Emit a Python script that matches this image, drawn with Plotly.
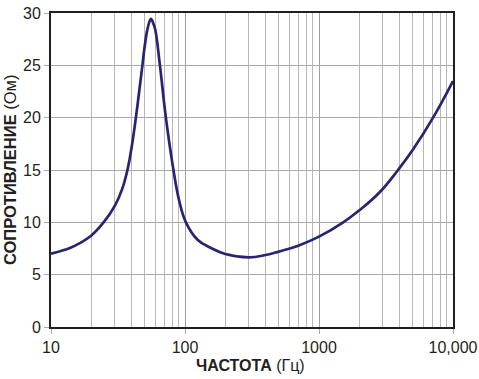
import plotly.graph_objects as go

freq_hz = [10, 12.5, 15, 20, 24.7, 30, 34, 37.2, 40, 43, 48.1, 50, 53, 55.7, 58, 60, 65, 72, 82,
           90, 101.6, 124, 156, 200, 300, 400, 500, 700, 1000, 1515, 2000, 2850, 3890, 5000,
           7100, 10000]
impedance_ohm = [7.0, 7.35, 7.75, 8.75, 10.0, 11.6, 13.2, 15.0, 17.2, 20.0, 25.0, 26.8, 28.7,
                 29.45, 29.0, 28.4, 25.0, 20.0, 15.0, 12.2, 10.0, 8.34, 7.55, 6.97, 6.65, 6.88,
                 7.2, 7.77, 8.63, 10.0, 11.15, 12.9, 15.0, 16.9, 20.0, 23.5]

x_tick_vals = [10, 100, 1000, 10000]
x_tick_text = ["10", "100", "1000", "10,000"]
y_tick_vals = [0, 5, 10, 15, 20, 25, 30]

fig = go.Figure()
fig.add_trace(go.Scatter(
    x=freq_hz, y=impedance_ohm, mode="lines",
    line=dict(color="#28246f", width=2.7, shape="spline", smoothing=1.2),
    hoverinfo="skip", showlegend=False,
))

font_main = "Liberation Sans, Arial, sans-serif"
fig.update_layout(
    width=479, height=379,
    margin=dict(l=51, r=26, t=13, b=52),
    paper_bgcolor="white", plot_bgcolor="white",
    font=dict(family=font_main, size=16, color="#231f20"),
    xaxis=dict(
        type="log", range=[1, 4], automargin=False,
        tickvals=x_tick_vals, ticktext=x_tick_text,
        ticks="outside", ticklen=5, tickcolor="#aaaaaa",
        showline=True, linecolor="#231f20", linewidth=2, mirror=True,
        showgrid=True, gridcolor="#9e9e9e", gridwidth=1,
        minor=dict(showgrid=True, gridcolor="#b8b8b8", gridwidth=1, dtick="D1", ticks=""),
        tickfont=dict(size=16),
        zeroline=False,
    ),
    yaxis=dict(
        range=[0, 30], tickvals=y_tick_vals, automargin=False,
        ticks="outside", ticklen=5, tickcolor="#aaaaaa",
        showline=True, linecolor="#231f20", linewidth=2, mirror=True,
        showgrid=True, gridcolor="#a8a8a8", gridwidth=1,
        tickfont=dict(size=16),
        zeroline=False,
    ),
    annotations=[
        dict(text="<b>ЧАСТОТА</b> (Гц)", xref="paper", yref="paper",
             x=0.4975, y=-0.124, xanchor="center", yanchor="middle",
             showarrow=False, font=dict(size=16)),
        dict(text="<b>СОПРОТИВЛЕНИЕ</b> (Ом)", xref="paper", yref="paper",
             x=-0.102, y=0.5, xanchor="center", yanchor="middle", textangle=-90,
             showarrow=False, font=dict(size=16.5)),
    ],
)

fig.write_html(
    "out.html",
    config={"displayModeBar": False},
    post_script="document.body.style.margin='0';document.body.style.overflow='hidden';",
)
